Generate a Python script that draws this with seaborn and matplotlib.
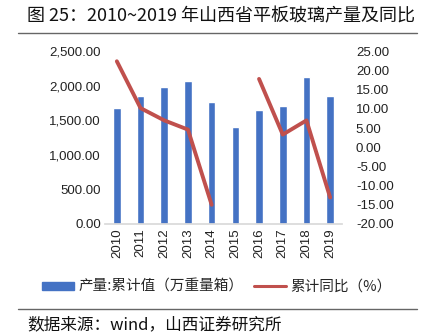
import numpy as np
import pandas as pd
import matplotlib
matplotlib.use("Agg")
import matplotlib.pyplot as plt
from matplotlib.lines import Line2D
from matplotlib.patches import Patch
import seaborn as sns

years = ["2010", "2011", "2012", "2013", "2014", "2015", "2016", "2017", "2018", "2019"]
output = [1675, 1853, 1979, 2070, 1762, 1400, 1650, 1704, 2128, 1853]
yoy = [22.4, 10.2, 7.0, 4.6, -15.0, np.nan, 17.8, 3.3, 7.0, -13.1]
left_ticks = [0, 500, 1000, 1500, 2000, 2500]
right_ticks = [-20, -15, -10, -5, 0, 5, 10, 15, 20, 25]

sns.set_theme(style="white")
plt.rcParams['font.family'] = ['Noto Sans CJK SC', 'DejaVu Sans']

BLUE = "#4472C4"
RED = "#C0504D"

fig = plt.figure(figsize=(4.25, 3.35), dpi=100)
ax = fig.add_axes([105/425, 1-224/335, (342-105)/425, (224-51.3)/335])

df = pd.DataFrame({"year": years, "output": output, "yoy": yoy})
df["pos"] = np.arange(len(years))

sns.barplot(data=df, x="year", y="output", color=BLUE, width=0.32, saturation=1, ax=ax)
ax.set_xlim(-0.5, len(years) - 0.5)
ax.set_ylim(0, 2500)
ax.set_yticks(left_ticks)
ax.set_yticklabels([f"{v:,.2f}" for v in left_ticks], fontsize=9.5, family=['Liberation Sans'])
ax.set_xticks(range(len(years)))
ax.set_xticklabels(years, rotation=90, fontsize=9.5, family=['Liberation Sans'])
ax.set_xlabel("")
ax.set_ylabel("")
for s in ["left", "right", "top"]:
    ax.spines[s].set_visible(False)
ax.spines["bottom"].set_color("#d9d9d9")
ax.tick_params(axis="both", length=0, pad=3, colors="#222222")

ax2 = ax.twinx()
mask = df["yoy"].notna()
seg1 = df[mask & (df["pos"] < 5)]
seg2 = df[mask & (df["pos"] > 5)]
sns.lineplot(data=seg1, x="pos", y="yoy", color=RED, lw=2.8, ax=ax2)
sns.lineplot(data=seg2, x="pos", y="yoy", color=RED, lw=2.8, ax=ax2)
ax2.set_ylim(-20, 25)
ax2.set_yticks(right_ticks)
ax2.set_yticklabels([f"{v:.2f}" for v in right_ticks], fontsize=9.5, family=['Liberation Sans'])
ax2.set_ylabel("")
ax2.set_xlabel("")
for s in ["left", "right", "top", "bottom"]:
    ax2.spines[s].set_visible(False)
ax2.tick_params(axis="y", length=0, pad=10, colors="#222222")
ax2.set_xlim(-0.5, len(years) - 0.5)

handles = [Patch(color=BLUE), Line2D([0], [0], color=RED, lw=2.2)]
labels = ["产量:累计值（万重量箱）", "累计同比（%）"]
fig.legend(handles, labels, loc="center", bbox_to_anchor=(217/425, 1-287/335), ncol=2,
           frameon=False, fontsize=10.5, handlelength=2.2, handleheight=0.45,
           columnspacing=0.7, handletextpad=0.3)

fig.text(27/425, 1-16/335, "图 25：2010~2019 年山西省平板玻璃产量及同比", fontsize=13,
         va="center", ha="left", color="#111111")
fig.add_artist(Line2D([18/425, 417/425], [1-32.5/335]*2, color="#666666", lw=1))
fig.add_artist(Line2D([18/425, 417/425], [1-309/335]*2, color="#666666", lw=1))
fig.text(27/425, 1-325/335, "数据来源：wind，山西证券研究所", fontsize=12,
         va="center", ha="left", color="#111111")

fig.savefig("out.png", dpi=100)
